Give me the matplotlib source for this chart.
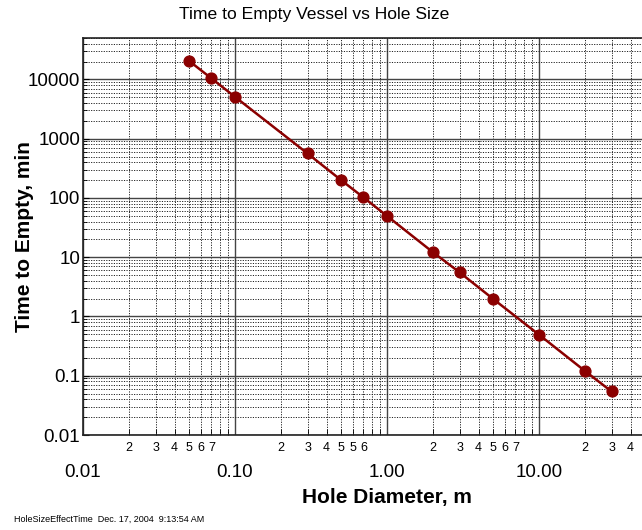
import numpy as np
import matplotlib
matplotlib.use('Agg')
import matplotlib.pyplot as plt
from matplotlib.ticker import FixedLocator, FixedFormatter, NullFormatter

plt.rcParams['font.family'] = ['Liberation Sans', 'DejaVu Sans']

# --- datos ---
diametro = [0.05, 0.07, 0.1, 0.3, 0.5, 0.7, 1.0, 2.0, 3.0, 5.0, 10.0, 20.0, 30.0]
tiempo = [20400, 10400, 5080, 563, 199, 102, 49.7, 12.2, 5.56, 1.97, 0.493, 0.121, 0.0543]

x_major = [0.01, 0.1, 1.0, 10.0]
x_major_lab = ['0.01', '0.10', '1.00', '10.00']
y_major = [0.01, 0.1, 1, 10, 100, 1000, 10000]
y_major_lab = ['0.01', '0.1', '1', '10', '100', '1000', '10000']

# etiquetas menores tal como aparecen (la segunda decada repite el 5)
x_minor_lab = [['2', '3', '4', '5', '6', '7', '', ''],
               ['2', '3', '4', '5', '5', '6', '', ''],
               ['2', '3', '4', '5', '6', '7', '', ''],
               ['2', '3', '4', '', '', '', '', '']]

fig = plt.figure(figsize=(6.42, 5.30), dpi=100)
# el eje llega hasta 100 y la figura lo corta por la derecha
ax = fig.add_axes([83/642, 95/530, 608/642, 397/530])

ax.set_xscale('log')
ax.set_yscale('log')
ax.set_xlim(0.01, 100)
ax.set_ylim(0.01, 50000)

# minor ticks
x_minor = []
labs = []
for d, dec in enumerate([0.01, 0.1, 1.0, 10.0]):
    for k, m in enumerate(range(2, 10)):
        x_minor.append(m*dec)
        labs.append(x_minor_lab[d][k])
y_minor = [m*10.0**e for e in range(-2, 5) for m in range(2, 10)]

ax.xaxis.set_major_locator(FixedLocator(x_major))
ax.xaxis.set_major_formatter(FixedFormatter(x_major_lab))
ax.xaxis.set_minor_locator(FixedLocator(x_minor))
ax.xaxis.set_minor_formatter(FixedFormatter(labs))
ax.yaxis.set_major_locator(FixedLocator(y_major))
ax.yaxis.set_major_formatter(FixedFormatter(y_major_lab))
ax.yaxis.set_minor_locator(FixedLocator(y_minor))
ax.yaxis.set_minor_formatter(NullFormatter())

ax.grid(True, which='major', color='#444444', linewidth=1.0, linestyle='-')
ax.grid(True, which='minor', color='#222222', linewidth=0.7, linestyle=(0, (1.2, 1.4)))
ax.set_axisbelow(True)

ax.tick_params(which='both', direction='in', top=False, right=False)
ax.tick_params(axis='x', which='major', length=0, pad=21, labelsize=13.5)
ax.tick_params(axis='x', which='minor', length=4, pad=5, labelsize=9)
ax.tick_params(axis='y', which='major', length=4, pad=2, labelsize=13.5)
ax.tick_params(axis='y', which='minor', length=3)

for s in ['top', 'bottom', 'left']:
    ax.spines[s].set_linewidth(1.2)
    ax.spines[s].set_color('#222222')

ax.plot(diametro, tiempo, color='#8b0000', linewidth=1.8, marker='o',
        markersize=7.8, markerfacecolor='#8b0000', markeredgecolor='#8b0000', zorder=5)

ax.set_xlabel('Hole Diameter, m', fontsize=15, fontweight='bold', labelpad=5)
ax.set_ylabel('Time to Empty, min', fontsize=15, fontweight='bold')
ax.yaxis.set_label_coords(-0.08, 0.5)

fig.text(314/642, 1 - 15/530, 'Time to Empty Vessel vs Hole Size', ha='center', va='center',
         fontsize=12.6)
fig.text(14/642, 1 - 519/530, 'HoleSizeEffectTime  Dec. 17, 2004  9:13:54 AM', ha='left',
         va='center', fontsize=6.5)

fig.savefig('out.png', dpi=100)
